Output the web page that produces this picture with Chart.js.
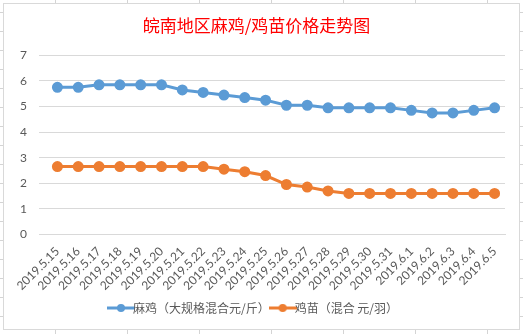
<!DOCTYPE html>
<html>
<head>
<meta charset="utf-8">
<script src="https://cdn.jsdelivr.net/npm/chart.js@4"></script>
<style>
  html, body { margin: 0; padding: 0; }
  body {
    width: 523px; height: 334px; overflow: hidden; position: relative;
    background-color: #fff;
    background-image:
      linear-gradient(to right, #d4d4d4 1px, transparent 1px),
      linear-gradient(to bottom, #d4d4d4 1px, transparent 1px);
    background-size: 72px 19px, 72px 19px;
    background-position: 55px 0, 0 12px;
  }
  #box {
    position: absolute; left: 3px; top: 3px; width: 515px; height: 325px;
    border: 1px solid #d9d9d9; background: #fff;
  }
  canvas { position: absolute; left: 0; top: 0; }
</style>
</head>
<body>
<div id="box"></div>
<canvas id="myChart" width="523" height="334"></canvas>
<script>
const dates = ["2019.5.15", "2019.5.16", "2019.5.17", "2019.5.18", "2019.5.19", "2019.5.20", "2019.5.21", "2019.5.22",
  "2019.5.23", "2019.5.24", "2019.5.25", "2019.5.26", "2019.5.27", "2019.5.28", "2019.5.29", "2019.5.30",
  "2019.5.31", "2019.6.1", "2019.6.2", "2019.6.3", "2019.6.4", "2019.6.5"];
const maji = [5.75, 5.75, 5.85, 5.85, 5.85, 5.85, 5.65, 5.55, 5.45, 5.35, 5.25, 5.05, 5.05, 4.95, 4.95, 4.95,
  4.95, 4.85, 4.75, 4.75, 4.85, 4.95];
const jimiao = [2.65, 2.65, 2.65, 2.65, 2.65, 2.65, 2.65, 2.65, 2.55, 2.45, 2.3, 1.95, 1.85, 1.7, 1.6, 1.6,
  1.6, 1.6, 1.6, 1.6, 1.6, 1.6];
const seriesNames = ["麻鸡（大规格混合元/斤）", "鸡苗（混合 元/羽）"];
const blue = "#5b9bd5";
const orange = "#ed7d31";

// legend marker: short line with a dot, like excel
function legendMark(color) {
  const c = document.createElement("canvas");
  c.width = 28; c.height = 10;
  const g = c.getContext("2d");
  g.strokeStyle = color; g.lineWidth = 3;
  g.beginPath(); g.moveTo(0, 5); g.lineTo(28, 5); g.stroke();
  g.fillStyle = color;
  g.beginPath(); g.arc(14, 5, 4, 0, Math.PI * 2); g.fill();
  return c;
}

const cjk = "'Noto Sans CJK SC', sans-serif";

new Chart(document.getElementById("myChart").getContext("2d"), {
  type: "line",
  data: {
    labels: dates,
    datasets: [
      { label: seriesNames[0], data: maji, borderColor: blue, backgroundColor: blue, borderWidth: 3,
        pointRadius: 4, pointBackgroundColor: blue, pointBorderColor: blue, tension: 0 },
      { label: seriesNames[1], data: jimiao, borderColor: orange, backgroundColor: orange, borderWidth: 3,
        pointRadius: 4, pointBackgroundColor: orange, pointBorderColor: orange, tension: 0 },
    ],
  },
  options: {
    responsive: false,
    animation: false,
    layout: { padding: { left: 8, right: 18, top: 8, bottom: 10 } },
    plugins: {
      title: {
        display: true,
        text: "皖南地区麻鸡/鸡苗价格走势图",
        color: "#ff0000",
        font: { family: cjk, size: 17, weight: "normal" },
        padding: { top: 7, bottom: 20 },
      },
      legend: {
        position: "bottom",
        labels: {
          color: "#595959",
          font: { family: cjk, size: 12 },
          usePointStyle: true,
          boxWidth: 28,
          padding: 7,
          generateLabels: (chart) => chart.data.datasets.map((ds, i) => ({
            text: ds.label,
            fontColor: "#595959",
            pointStyle: legendMark(ds.borderColor),
            datasetIndex: i,
            lineWidth: 0,
            strokeStyle: "transparent",
            fillStyle: "transparent",
          })),
        },
      },
      tooltip: { enabled: false },
    },
    scales: {
      x: {
        offset: true,
        grid: { display: false },
        border: { color: "#d9d9d9" },
        ticks: { color: "#595959", font: { family: "Lato", size: 12 }, maxRotation: 45, minRotation: 45, autoSkip: false, padding: 2 },
      },
      y: {
        min: 0, max: 7,
        afterFit: (s) => { s.width = 39; },
        grid: { color: "#d9d9d9" },
        border: { display: false },
        ticks: { stepSize: 1, color: "#595959", font: { family: "Lato", size: 12 }, padding: 12 },
      },
    },
  },
});
</script>
</body>
</html>
